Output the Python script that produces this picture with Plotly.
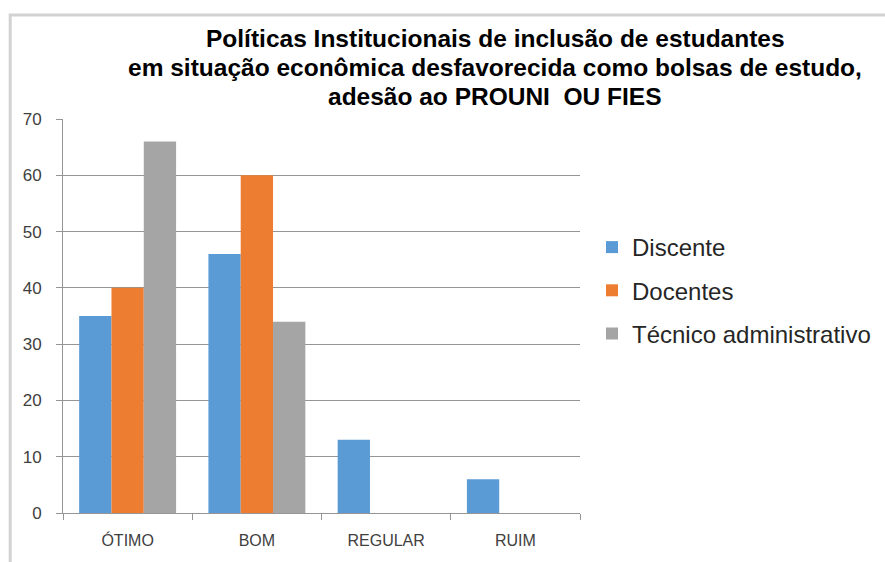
import plotly.graph_objects as go

categories = ["ÓTIMO", "BOM", "REGULAR", "RUIM"]
discente = [35, 46, 13, 6]
docentes = [40, 60, 0, 0]
tecnico = [66, 34, 0, 0]
series_names = ["Discente", "Docentes", "Técnico administrativo"]
colors = ["#5B9BD5", "#ED7D31", "#A5A5A5"]
title_lines = [
    "Políticas Institucionais de inclusão de estudantes",
    "em situação econômica desfavorecida como bolsas de estudo,",
    "adesão ao PROUNI  OU FIES",
]

W, H = 885, 562
L, R, T, B = 63, 582, 119, 513

fig = go.Figure()
for name, vals, col in zip(series_names, [discente, docentes, tecnico], colors):
    fig.add_trace(go.Bar(x=categories, y=vals, name=name, marker_color=col,
                         marker_line_width=0, legendgroup=name))

def px2x(px):
    return (px - L) / (R - L)

def py2y(py):
    return (B - py) / (B - T)

annotations = []
for line, yc in zip(title_lines, [38, 67, 97]):
    annotations.append(dict(text="<b>%s</b>" % line, x=px2x(497), y=py2y(yc),
                            xref="paper", yref="paper", xanchor="center", yanchor="middle",
                            showarrow=False,
                            font=dict(family="Liberation Sans, Arial", size=24.5, color="#000000")))

fig.update_layout(
    width=W, height=H,
    margin=dict(l=L, r=W - R, t=T, b=H - B, pad=0),
    paper_bgcolor="white", plot_bgcolor="white",
    barmode="group", bargap=0.25, bargroupgap=0,
    annotations=annotations,
    showlegend=True,
    legend=dict(xref="container", yref="container", x=592 / W, y=1 - 225 / H,
                xanchor="left", yanchor="top",
                font=dict(family="Liberation Sans, Arial", size=24, color="#262626"),
                tracegroupgap=9, itemsizing="constant", bgcolor="rgba(0,0,0,0)"),
    shapes=[dict(type="rect", xref="paper", yref="paper",
                 x0=px2x(10), x1=px2x(900), y0=py2y(575), y1=py2y(15),
                 line=dict(color="#D2D2D2", width=3), layer="below")],
)
fig.update_xaxes(showline=True, linecolor="#959595", linewidth=1,
                 ticks="outside", ticklen=6, tickcolor="#959595", tickson="boundaries",
                 ticklabelstandoff=13,
                 tickfont=dict(family="Liberation Sans, Arial", size=16, color="#404040"),
                 showgrid=False)
fig.update_yaxes(range=[0, 70], dtick=10, showgrid=True, gridcolor="#959595", gridwidth=1,
                 ticks="outside", ticklen=6, tickcolor="#959595", zeroline=False,
                 showline=True, linecolor="#959595", linewidth=1, ticklabelstandoff=11,
                 tickfont=dict(family="Liberation Sans, Arial", size=17, color="#404040"))

fig.write_html("out.html", config={"displayModeBar": False},
               post_script="document.body.style.margin='0px';")
